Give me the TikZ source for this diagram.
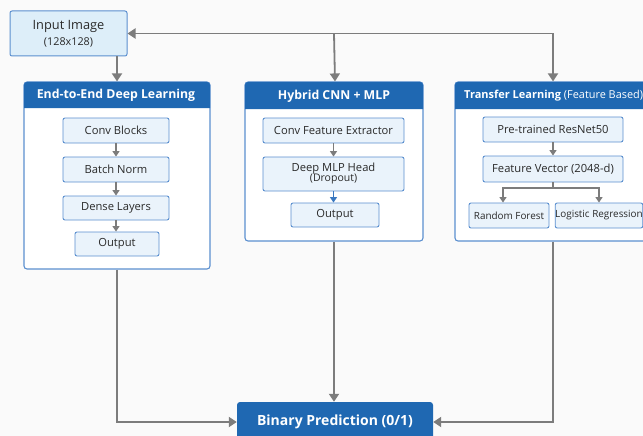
\documentclass[tikz,border=0pt]{standalone}
\usepackage{fontspec}
\setmainfont{Open Sans}
\usetikzlibrary{arrows.meta}
\definecolor{bgc}{HTML}{FAFAFA}
\definecolor{boxfill}{HTML}{EAF3FB}
\definecolor{inpfill}{HTML}{DDEEF9}
\definecolor{boxline}{HTML}{5B8FCF}
\definecolor{headblue}{HTML}{1F68B2}
\definecolor{arrgray}{HTML}{7C7C7C}
\definecolor{txt}{HTML}{2A2A2A}
\definecolor{bluearr}{HTML}{3A78C0}
\tikzset{
  inbox/.style={draw=boxline, line width=0.9pt, fill=boxfill, rounded corners=2pt, inner sep=0pt,
    text=txt, font=\fontsize{11.2}{13}\selectfont, align=center},
  panel/.style={draw=boxline, line width=1.1pt, fill=white, rounded corners=3pt, inner sep=0pt},
  headtxt/.style={text=white, font=\bfseries\fontsize{12.3}{14}\selectfont, inner sep=0pt},
  conn/.style={draw=arrgray, line width=1.8pt, -{Triangle[width=10pt,length=8pt]}},
  sconn/.style={draw=arrgray, line width=1.3pt, -{Triangle[width=7pt,length=5.5pt]}},
}
\begin{document}
\begin{tikzpicture}[x=1pt,y=-1pt]
\useasboundingbox (0,0) rectangle (643,436);
\clip (0,0) rectangle (643,436);
\fill[bgc] (0,0) rectangle (643,436);

% input
\node[inbox, fill=inpfill, line width=1pt, minimum width=117pt, minimum height=45pt,
  font=\fontsize{12.8}{17}\selectfont] (inp) at (68.5,33.5) {Input Image\\[-1pt]{\fontsize{10.8}{13}\selectfont(128x128)}};

% panels
\node[panel, minimum width=186pt, minimum height=187pt] (panelL) at (117,175.5) {};
\node[panel, minimum width=178pt, minimum height=159pt] (panelM) at (334,161.5) {};
\node[panel, minimum width=196pt, minimum height=159pt] (panelR) at (553,161.5) {};

% headers
\fill[headblue] (24,108) {[rounded corners=3pt] -- (24,82) -- (210,82)} -- (210,108) -- cycle;
\fill[headblue] (245,109) {[rounded corners=3pt] -- (245,82) -- (423,82)} -- (423,109) -- cycle;
\fill[headblue] (455,109) {[rounded corners=3pt] -- (455,82) -- (651,82)} -- (651,109) -- cycle;
\node[headtxt] (hL) at (116,95.5) {End-to-End Deep Learning};
\node[headtxt] (hM) at (334,96) {Hybrid CNN + MLP};
\node[headtxt, anchor=west, font=\bfseries\fontsize{11}{13}\selectfont] (hR) at (464,96) {Transfer Learning {\mdseries\fontsize{10.9}{12}\selectfont(Feature Based)}};

% left column
\node[inbox, minimum width=106pt, minimum height=25pt] (cb) at (116,130.5) {Conv Blocks};
\node[inbox, minimum width=106pt, minimum height=25pt] (bn) at (116,169.5) {Batch Norm};
\node[inbox, minimum width=106pt, minimum height=24pt] (dl) at (116,208) {Dense Layers};
\node[inbox, minimum width=84pt, minimum height=24pt] (outL) at (117,244) {Output};
\draw[sconn] (cb) -- (bn);
\draw[sconn] (bn) -- (dl);
\draw[sconn] (dl.south) -- (dl.south |- outL.north);

% middle column
\node[inbox, minimum width=141pt, minimum height=34pt] (cfe) at (333.5,130.5) [minimum height=25pt] {Conv Feature Extractor};
\node[inbox, minimum width=141pt, minimum height=34pt] (mlp) at (333.5,174) {Deep MLP Head\\[-3pt]{\fontsize{10.5}{12}\selectfont(Dropout)}};
\node[inbox, minimum width=88pt, minimum height=24pt] (outM) at (335,215) {Output};
\draw[sconn] (cfe.south) -- (cfe.south |- mlp.north);
\draw[sconn, draw=bluearr] (mlp.south) -- (mlp.south |- outM.north);

% right column
\node[inbox, minimum width=140pt, minimum height=25pt] (res) at (553,129.5) {Pre-trained ResNet50};
\node[inbox, minimum width=140pt, minimum height=26pt] (fv) at (553,169) {Feature Vector (2048-d)};
\node[inbox, minimum width=80pt, minimum height=25pt, font=\fontsize{9.9}{11}\selectfont] (rf) at (509,215.5) {Random Forest};
\node[inbox, minimum width=86pt, minimum height=25pt, font=\fontsize{9.9}{11}\selectfont] (lr) at (599,215.5) {Logistic Regression};
\draw[sconn] (res) -- (fv);
\coordinate (br) at (553,188);
\draw[draw=arrgray, line width=1.3pt] (fv.south) -- (br);
\draw[sconn] (br) -| ([xshift=-6pt]rf.north);
\draw[sconn] (br) -| (lr.north);

% output
\node[fill=headblue, rounded corners=3pt, minimum width=196pt, minimum height=40pt, inner sep=0pt,
  text=white, font=\bfseries\fontsize{14}{16}\selectfont] (bin) at (335,422) {Binary Prediction (0/1)};

% connectors
\coordinate (top) at (panelR.north |- inp.east);
\draw[conn, {Triangle[width=10pt,length=8pt]}-{Triangle[width=10pt,length=8pt]}] (inp.east) -- (top) -- (panelR.north);
\draw[conn] (panelM.north |- inp.east) -- ([xshift=1pt]panelM.north);
\draw[conn] (inp.south -| panelL.north) -- (panelL.north);
\draw[conn] (panelL.south) |- (bin.west);
\draw[conn] (panelM.south) -- (panelM.south |- bin.north);
\draw[conn] (panelR.south) |- (bin.east);
\end{tikzpicture}
\end{document}
